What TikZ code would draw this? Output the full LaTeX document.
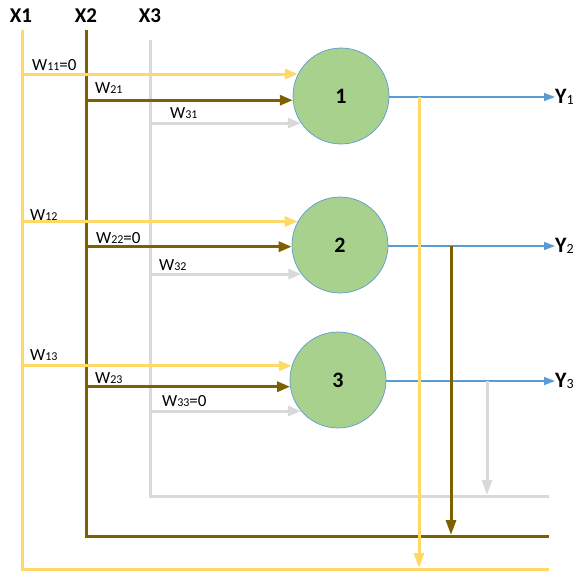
\documentclass[tikz,border=0pt]{standalone}
\usepackage{fontspec}
\setmainfont{Carlito}
\usetikzlibrary{arrows.meta,calc}
\definecolor{ylw}{HTML}{FFD966}
\definecolor{brn}{HTML}{7F6000}
\definecolor{gry}{HTML}{D9D9D9}
\definecolor{blu}{HTML}{5B9BD5}
\definecolor{grn}{HTML}{A9D18E}
\newcommand{\Wlab}[2]{W{\fontsize{12}{12}\selectfont\raisebox{-0.5pt}{#1}}#2}
\newcommand{\Ylab}[1]{Y{\fontsize{14}{14}\selectfont\mdseries\raisebox{-1pt}{#1}}}
\begin{document}
\begin{tikzpicture}[x=1pt,y=-1pt,
 yline/.style={draw=ylw,line width=3pt},
 bline/.style={draw=brn,line width=3pt},
 gline/.style={draw=gry,line width=3pt},
 tipin/.style={-{Triangle[length=13pt,width=10pt]}},
 tipdown/.style={-{Triangle[length=15pt,width=10pt]}},
 outarrow/.style={draw=blu,line width=1.6pt,-{Triangle[length=11pt,width=8pt]}},
 neuron/.style={circle,draw=blu,line width=0.7pt,fill=grn,minimum size=96pt,inner sep=0pt,font=\fontsize{22}{22}\selectfont\bfseries},
 xlab/.style={inner sep=0pt,font=\fontsize{21}{21}\selectfont\bfseries},
 wlab/.style={anchor=base west,inner sep=0pt,font=\fontsize{17}{17}\selectfont},
 ylab/.style={anchor=west,inner sep=0pt,font=\fontsize{22}{22}\selectfont\bfseries}
]
\useasboundingbox (0,0) rectangle (581,573);

% input labels
\node[xlab] (X1) at (21,16) {X1};
\node[xlab] (X2) at (86,16) {X2};
\node[xlab] (X3) at (150,16) {X3};

% neurons
\node[neuron] (n1) at (341,96) {1};
\node[neuron] (n2) at (340,245) {2};
\node[neuron] (n3) at (338,380) {3};

% output labels
\node[ylab] (Y1) at (555,97) {\Ylab{1}};
\node[ylab] (Y2) at (555,246) {\Ylab{2}};
\node[ylab] (Y3) at (555,381) {\Ylab{3}};

% key coordinates
\coordinate (x1t) at (22,30);  \coordinate (x1b) at (22,569);  \coordinate (x1r) at (549,569);
\coordinate (x2t) at (86,30);  \coordinate (x2b) at (86,536);  \coordinate (x2r) at (549,536);
\coordinate (x3t) at (150,40); \coordinate (x3b) at (150,496); \coordinate (x3r) at (549,496);
\coordinate (fy) at (419,0);
\coordinate (fb) at (451,0);
\coordinate (fg) at (487,0);

% feedback bus lines
\draw[gline] (x3t) -- (x3b) -- (x3r);
\draw[bline] (x2t) -- (x2b) -- (x2r);
\draw[yline] (x1t) -- (x1b) -- (x1r);

% outputs
\draw[outarrow] (n1.east |- Y1.west) -- (Y1.west);
\draw[outarrow] (n2.east |- Y2.west) -- (Y2.west);
\draw[outarrow] (n3.east |- Y3.west) -- (Y3.west);

% feedback verticals
\draw[gline,tipdown] (fg |- Y3.west) -- ($(fg |- x3r)+(0,-1)$);
\draw[bline,tipdown] (fb |- Y2.west) -- ($(fb |- x2r)+(0,-1)$);
\draw[yline,tipdown] (fy |- Y1.west) -- ($(fy |- x1r)+(0,-1)$);

% inputs to neuron 1
\draw[gline,tipin] (x3t |- n1.214) -- (n1.214);
\draw[bline,tipin] (x2t |- n1.185) -- (n1.185);
\draw[yline,tipin] (x1t |- n1.153) -- (n1.153);
% inputs to neuron 2
\draw[gline,tipin] (x3t |- n2.217) -- (n2.217);
\draw[bline,tipin] (x2t |- n2.182) -- (n2.182);
\draw[yline,tipin] (x1t |- n2.151) -- (n2.151);
% inputs to neuron 3
\draw[gline,tipin] (x3t |- n3.220) -- (n3.220);
\draw[bline,tipin] (x2t |- n3.188) -- (n3.188);
\draw[yline,tipin] (x1t |- n3.163) -- (n3.163);

% weight labels
\node[wlab] (w11) at (32,70) {\Wlab{11}{=0}};
\node[wlab] (w21) at (95,93) {\Wlab{21}{}};
\node[wlab] (w31) at (170,118) {\Wlab{31}{}};
\node[wlab] (w12) at (30,220) {\Wlab{12}{}};
\node[wlab] (w22) at (96,243) {\Wlab{22}{=0}};
\node[wlab] (w32) at (159,270) {\Wlab{32}{}};
\node[wlab] (w13) at (30,360) {\Wlab{13}{}};
\node[wlab] (w23) at (95,383) {\Wlab{23}{}};
\node[wlab] (w33) at (162,406) {\Wlab{33}{=0}};
\end{tikzpicture}
\end{document}
